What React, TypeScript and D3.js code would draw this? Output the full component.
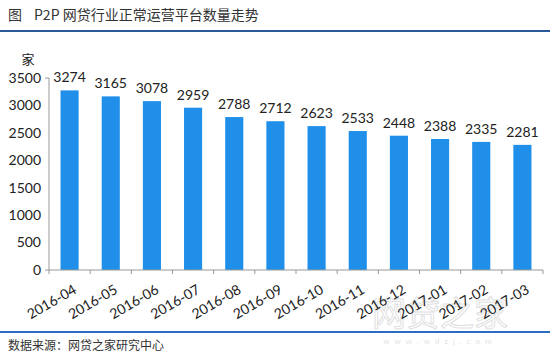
import React from 'react';
import * as d3 from 'd3';

const months = ['2016-04', '2016-05', '2016-06', '2016-07', '2016-08', '2016-09', '2016-10', '2016-11', '2016-12', '2017-01', '2017-02', '2017-03'];
const platforms = [3274, 3165, 3078, 2959, 2788, 2712, 2623, 2533, 2448, 2388, 2335, 2281];
const yTicks = [0, 500, 1000, 1500, 2000, 2500, 3000, 3500];

const W = 550;
const H = 354;
const left = 49;
const right = 543;
const top = 78;
const bottom = 270;
const numFont = 'Lato, "Noto Sans", sans-serif';
const cjkFont = '"Noto Sans CJK SC", sans-serif';

export default function App() {
  const x = d3.scaleBand<string>().domain(months).range([left, right]).paddingInner(0.56).paddingOuter(0.28);
  const y = d3.scaleLinear().domain([0, 3500]).range([bottom, top]);
  const step = x.step();

  return (
    <svg width={W} height={H} style={{ position: 'absolute', left: 0, top: 0, background: '#fff' }}>
      <text x={8} y={20} fontFamily={cjkFont} fontSize={14} fill="#333">图</text>
      <text x={34} y={20} fontFamily={cjkFont} fontSize={14} fill="#333">P2P 网贷行业正常运营平台数量走势</text>
      <line x1={0} x2={W} y1={31} y2={31} stroke="#2a5b98" strokeWidth={2} />

      <text x={28} y={64} fontFamily={cjkFont} fontSize={13} fill="#222" textAnchor="middle">家</text>

      {yTicks.map(t => (
        <text key={t} x={41} y={y(t)} dy="0.35em" textAnchor="end" fontFamily={numFont} fontSize={14} fill="#222">{t}</text>
      ))}

      {/* watermark */}
      <g opacity={0.55}>
        <text x={440} y={326} textAnchor="middle" fontFamily={cjkFont} fontSize={34} fill="none" stroke="#c8c8c8" strokeWidth={1}>网贷之家</text>
        <text x={440} y={344} textAnchor="middle" fontFamily={numFont} fontSize={8} fill="#ccc" letterSpacing={5}>www.wdzj.com</text>
      </g>

      {months.map((m, i) => (
        <rect key={m} x={x(m)} y={y(platforms[i])} width={x.bandwidth()} height={bottom - y(platforms[i])} fill="#1f8fea" />
      ))}
      {months.map((m, i) => (
        <text key={'v' + m} x={x(m)! + x.bandwidth() / 2} y={y(platforms[i]) - 8} textAnchor="middle" fontFamily={numFont} fontSize={14} fill="#222">{platforms[i]}</text>
      ))}

      <line x1={left} x2={left} y1={top} y2={bottom} stroke="#999" />
      <line x1={left - 4} x2={right} y1={bottom} y2={bottom} stroke="#999" />
      <line x1={left - 4} x2={left} y1={top} y2={top} stroke="#999" />
      {d3.range(months.length + 1).map(i => (
        <line key={'t' + i} x1={left + i * step} x2={left + i * step} y1={bottom} y2={bottom + 4} stroke="#999" />
      ))}

      {months.map(m => {
        const cx = x(m)! + x.bandwidth() / 2 + 3;
        return (
          <text key={'l' + m} transform={`translate(${cx},${bottom + 14}) rotate(-30)`} textAnchor="end" dy="0.7em" fontFamily={numFont} fontSize={14} fill="#222">{m}</text>
        );
      })}

      <line x1={0} x2={W} y1={332} y2={332} stroke="#2a6cc0" strokeWidth={2} />
      <text x={8} y={350} fontFamily={cjkFont} fontSize={12} fill="#333">数据来源：网贷之家研究中心</text>
    </svg>
  );
}
